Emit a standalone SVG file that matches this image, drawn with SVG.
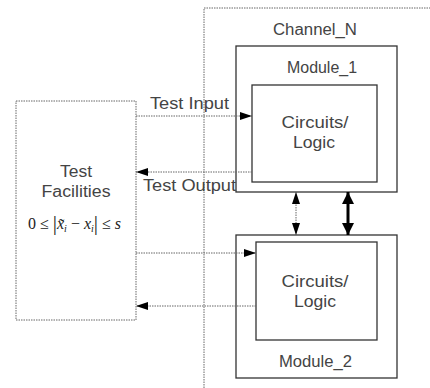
<svg xmlns="http://www.w3.org/2000/svg" width="430" height="388" viewBox="0 0 430 388">
<defs>
<style>
.lbl{font-family:"Liberation Sans",Arial,sans-serif;font-size:16px;fill:#444;}
.box{fill:#fff;stroke:#333;stroke-width:1.3;}
.dash{fill:none;stroke:#666;stroke-width:1;stroke-dasharray:1.5 1;}
.con{fill:none;stroke:#666;stroke-width:1;stroke-dasharray:1.5 1;}
.thick{fill:none;stroke:#000;stroke-width:3;}
.math{font-family:"Liberation Serif","Times New Roman",serif;font-size:16px;fill:#222;}
</style>
<marker id="ah" viewBox="0 0 12 8" refX="12" refY="4" markerWidth="12" markerHeight="8" markerUnits="userSpaceOnUse" orient="auto-start-reverse">
<path d="M0,0 L12,4 L0,8 Z" fill="#000"/>
</marker>
<marker id="ahb" viewBox="0 0 12 12" refX="12" refY="6" markerWidth="12" markerHeight="12" markerUnits="userSpaceOnUse" orient="auto-start-reverse">
<path d="M0,0 L12,6 L0,12 Z" fill="#000"/>
</marker>
</defs>
<rect width="430" height="388" fill="#fff"/>
<g id="channel">
<path class="dash" d="M204,388 L204,8 L430,8"/>
<text class="lbl" x="315" y="35" text-anchor="middle" textLength="84" lengthAdjust="spacingAndGlyphs">Channel_N</text>
</g>
<g id="test-facilities">
<rect class="dash" x="16" y="101" width="120" height="219"/>
<text class="lbl" x="76" y="177" text-anchor="middle" textLength="32" lengthAdjust="spacingAndGlyphs">Test</text>
<text class="lbl" x="76" y="197" text-anchor="middle" textLength="69" lengthAdjust="spacingAndGlyphs">Facilities</text>
<text class="math" x="28" y="229"><tspan>0 ≤ </tspan><tspan font-size="21" dy="1">|</tspan><tspan font-style="italic" dy="-1">x̃</tspan><tspan font-style="italic" font-size="10" dy="3">i</tspan><tspan dy="-3"> − </tspan><tspan font-style="italic">x</tspan><tspan font-style="italic" font-size="10" dy="3">i</tspan><tspan font-size="21" dy="-2">|</tspan><tspan dy="-1"> ≤ </tspan><tspan font-style="italic">s</tspan></text>
</g>
<g id="module1">
<rect class="box" x="236" y="46" width="161" height="146"/>
<text class="lbl" x="322" y="73" text-anchor="middle" textLength="70" lengthAdjust="spacingAndGlyphs">Module_1</text>
</g>
<g id="logic1">
<rect class="box" x="252" y="85" width="125" height="97"/>
<text class="lbl" x="315" y="128" text-anchor="middle" textLength="67" lengthAdjust="spacingAndGlyphs">Circuits/</text>
<text class="lbl" x="314" y="148" text-anchor="middle" textLength="42" lengthAdjust="spacingAndGlyphs">Logic</text>
</g>
<g id="module2">
<rect class="box" x="236" y="235" width="161" height="143"/>
<text class="lbl" x="315.5" y="367" text-anchor="middle" textLength="73" lengthAdjust="spacingAndGlyphs">Module_2</text>
</g>
<g id="logic2">
<rect class="box" x="256" y="242" width="121" height="98"/>
<text class="lbl" x="315" y="287" text-anchor="middle" textLength="67" lengthAdjust="spacingAndGlyphs">Circuits/</text>
<text class="lbl" x="315" y="307" text-anchor="middle" textLength="42" lengthAdjust="spacingAndGlyphs">Logic</text>
</g>
<g id="connectors">
<line class="con" x1="136" y1="116" x2="252" y2="116" marker-end="url(#ah)"/>
<line class="con" x1="252" y1="172" x2="136" y2="172" marker-end="url(#ah)"/>
<line class="con" x1="136" y1="253" x2="256" y2="253" marker-end="url(#ah)"/>
<line class="con" x1="256" y1="306" x2="136" y2="306" marker-end="url(#ah)"/>
<line class="con" x1="296" y1="192" x2="296" y2="235" marker-start="url(#ah)" marker-end="url(#ah)"/>
<line class="thick" x1="348" y1="192" x2="348" y2="235" marker-start="url(#ahb)" marker-end="url(#ahb)"/>
<text class="lbl" x="150" y="109" textLength="79" lengthAdjust="spacingAndGlyphs">Test Input</text>
<text class="lbl" x="143" y="191" textLength="93" lengthAdjust="spacingAndGlyphs">Test Output</text>
</g>
</svg>
